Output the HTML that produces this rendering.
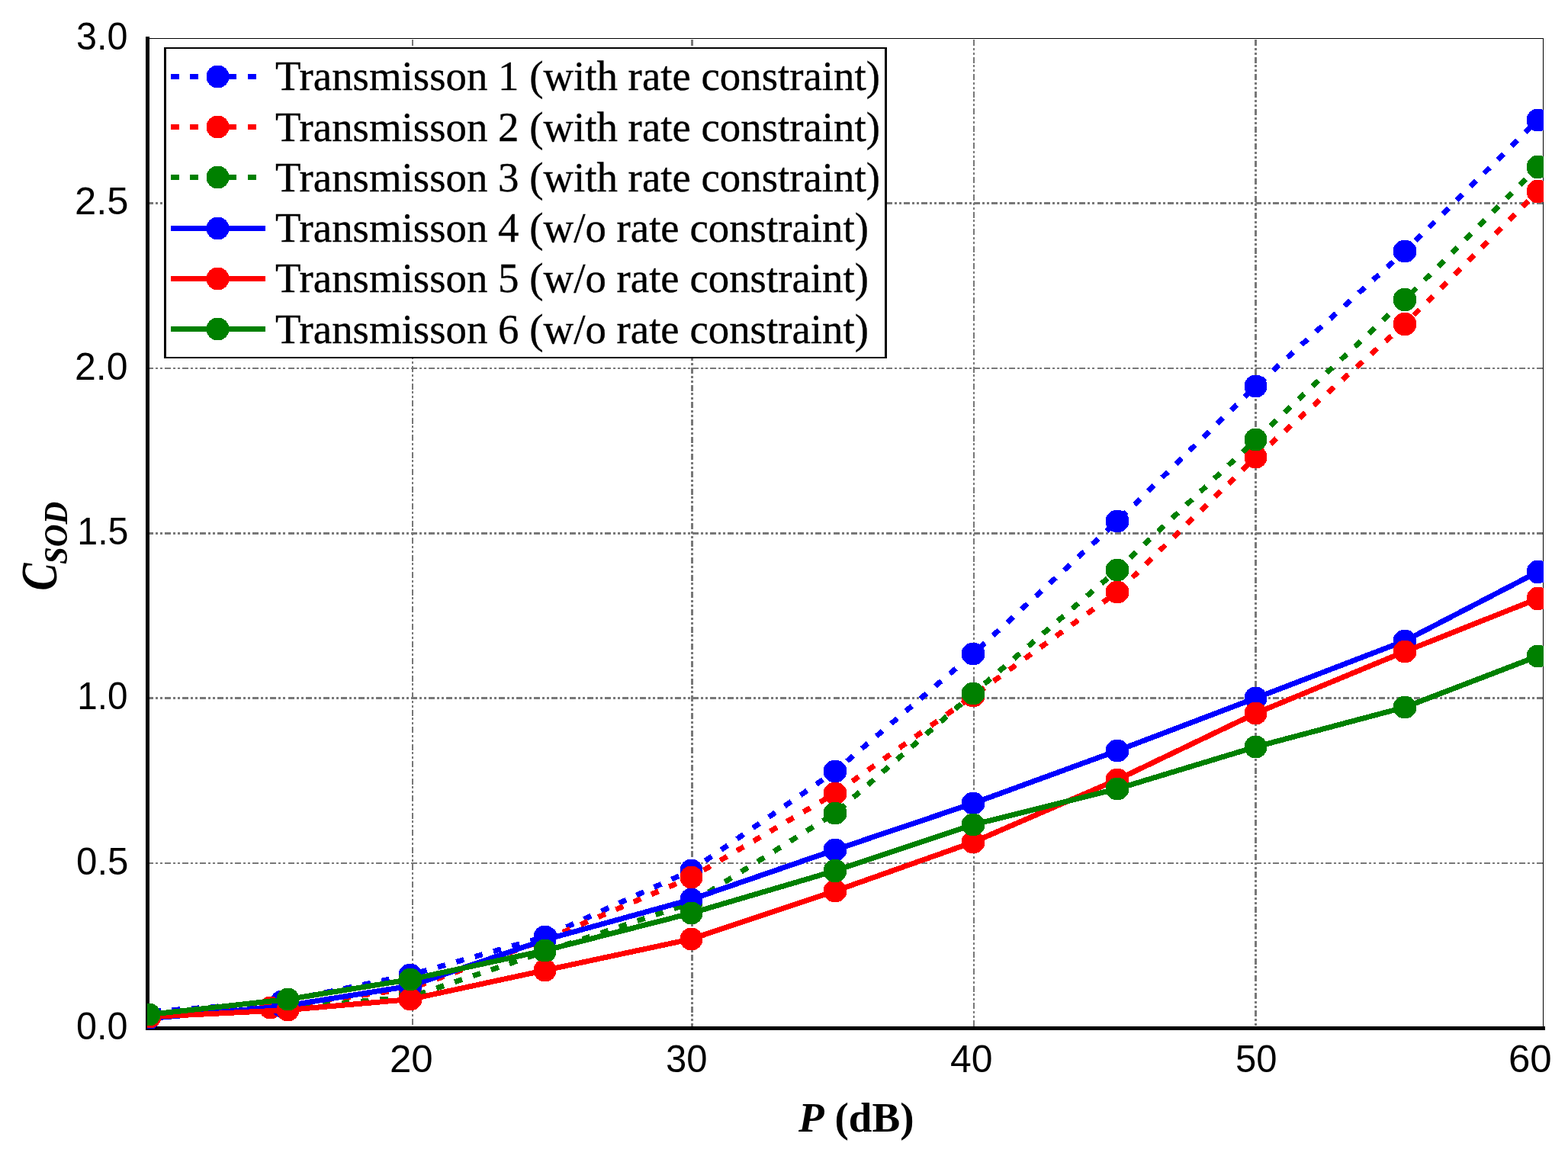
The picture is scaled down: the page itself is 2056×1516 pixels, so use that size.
<!DOCTYPE html>
<html lang="en"><head><meta charset="utf-8">
<title>C SOD versus P (dB)</title>
<style>
html,body{margin:0;padding:0;background:#fff;}
body{width:2056px;height:1516px;overflow:hidden;}
svg{display:block;}
.tk{font-family:"Liberation Sans",sans-serif;fill:#000;}.lg{font-family:"Liberation Serif",serif;fill:#000;stroke:#000;stroke-width:0.35px;}.tt{font-family:"Liberation Serif",serif;font-weight:bold;fill:#000;}
</style></head><body>
<svg width="2056" height="1516" viewBox="0 0 2056 1516" role="img" aria-label="Line chart of C SOD versus P in dB for six transmissions">
<rect x="0" y="0" width="2056" height="1516" fill="#fff"/>
<defs><clipPath id="ax"><rect x="193" y="50" width="1831" height="1299"/></clipPath></defs>
<g shape-rendering="crispEdges" fill="none" stroke="#787878">
<line x1="193" y1="266.5" x2="2023" y2="266.5" stroke-width="3" stroke-dasharray="8 3 3 3 3 3.065"/>
<line x1="193" y1="483" x2="2023" y2="483" stroke-width="2" stroke-dasharray="8 3 3 3 3 3.065"/>
<line x1="193" y1="699.5" x2="2023" y2="699.5" stroke-width="3" stroke-dasharray="8 3 3 3 3 3.065"/>
<line x1="193" y1="915.5" x2="2023" y2="915.5" stroke-width="3" stroke-dasharray="8 3 3 3 3 3.065"/>
<line x1="193" y1="1132" x2="2023" y2="1132" stroke-width="2" stroke-dasharray="8 3 3 3 3 3.065"/>
<line x1="541" y1="52" x2="541" y2="1346" stroke-width="2" stroke-dasharray="8 2.53 3 3 3 3"/>
<line x1="907.5" y1="52" x2="907.5" y2="1346" stroke-width="3" stroke-dasharray="8 2.64 3 3 3 3"/>
<line x1="1277" y1="52" x2="1277" y2="1346" stroke-width="2" stroke-dasharray="8 2.56 3 3 3 3"/>
<line x1="1646.5" y1="52" x2="1646.5" y2="1346" stroke-width="3" stroke-dasharray="8 2.73 3 3 3 3"/>
</g>
<g shape-rendering="crispEdges" fill="#000">
<rect x="191" y="48" width="5" height="1303"/>
<rect x="191" y="1346" width="1835" height="5"/>
<rect x="193" y="50" width="1831" height="1"/>
<rect x="2023" y="50" width="1" height="1299"/>
</g>
<g clip-path="url(#ax)" shape-rendering="crispEdges">
<path d="M172.2 1328.7 L369.5 1313.5 L538 1278.5 L714.5 1228.5 L906.5 1141.5 L1095 1011.5 L1276 857.5 L1465 683.5 L1646.5 506.5 L1842 329.5 L2016.5 157.5" fill="none" stroke="#0000ff" stroke-width="7" stroke-linejoin="round" stroke-dasharray="10.5 14.77" stroke-dashoffset="22.25"/>
<g fill="#0000ff"><ellipse cx="172.2" cy="1328.7" rx="14.95" ry="14.95"/><ellipse cx="369.5" cy="1313.5" rx="14.95" ry="14.95"/><ellipse cx="538" cy="1278.5" rx="15.45" ry="14.95"/><ellipse cx="714.5" cy="1228.5" rx="14.95" ry="14.95"/><ellipse cx="906.5" cy="1141.5" rx="14.95" ry="14.95"/><ellipse cx="1095" cy="1011.5" rx="15.45" ry="14.95"/><ellipse cx="1276" cy="857.5" rx="15.45" ry="14.95"/><ellipse cx="1465" cy="683.5" rx="15.45" ry="14.95"/><ellipse cx="1646.5" cy="506.5" rx="14.95" ry="14.95"/><ellipse cx="1842" cy="329.5" rx="15.45" ry="14.95"/><ellipse cx="2016.5" cy="157.5" rx="14.95" ry="14.95"/></g>
<path d="M195.5 1333 L354.5 1321.5 L538 1296.5 L714.5 1232.5 L906.5 1150.5 L1095 1040.5 L1276 912.5 L1465 776.5 L1646.5 599.5 L1842 425 L2016.5 251" fill="none" stroke="#ff0000" stroke-width="7" stroke-linejoin="round" stroke-dasharray="10.5 14.74" stroke-dashoffset="22.7"/>
<g fill="#ff0000"><ellipse cx="195.5" cy="1333" rx="14.95" ry="14.95"/><ellipse cx="354.5" cy="1321.5" rx="14.95" ry="14.95"/><ellipse cx="538" cy="1296.5" rx="15.45" ry="14.95"/><ellipse cx="714.5" cy="1232.5" rx="14.95" ry="14.95"/><ellipse cx="906.5" cy="1150.5" rx="14.95" ry="14.95"/><ellipse cx="1095" cy="1040.5" rx="15.45" ry="14.95"/><ellipse cx="1276" cy="912.5" rx="15.45" ry="14.95"/><ellipse cx="1465" cy="776.5" rx="15.45" ry="14.95"/><ellipse cx="1646.5" cy="599.5" rx="14.95" ry="14.95"/><ellipse cx="1842" cy="425" rx="15.45" ry="15.45"/><ellipse cx="2016.5" cy="251" rx="14.95" ry="15.45"/></g>
<path d="M195.5 1334 L377.5 1321.5 L538 1307.5 L714.5 1248 L906.5 1184 L1095 1066.5 L1276 909.5 L1465 747.5 L1646.5 576.5 L1842 393 L2016.5 219" fill="none" stroke="#008000" stroke-width="7" stroke-linejoin="round" stroke-dasharray="10.5 14.77" stroke-dashoffset="24.8"/>
<g fill="#008000"><ellipse cx="195.5" cy="1334" rx="14.95" ry="14.95"/><ellipse cx="377.5" cy="1321.5" rx="14.95" ry="14.95"/><ellipse cx="538" cy="1307.5" rx="15.45" ry="14.95"/><ellipse cx="714.5" cy="1248" rx="14.95" ry="14.95"/><ellipse cx="906.5" cy="1184" rx="14.95" ry="14.95"/><ellipse cx="1095" cy="1066.5" rx="15.45" ry="14.95"/><ellipse cx="1276" cy="909.5" rx="15.45" ry="14.95"/><ellipse cx="1465" cy="747.5" rx="15.45" ry="14.95"/><ellipse cx="1646.5" cy="576.5" rx="14.95" ry="14.95"/><ellipse cx="1842" cy="393" rx="15.45" ry="15.45"/><ellipse cx="2016.5" cy="219" rx="14.95" ry="15.45"/></g>
<path d="M195 1335.7 L370.5 1319.8 L538 1293 L714.5 1232.5 L906.5 1179.5 L1095 1114.5 L1276 1053.5 L1465 984.5 L1646.5 915.5 L1842 840.5 L2016.5 750" fill="none" stroke="#0000ff" stroke-width="7" stroke-linejoin="round"/>
<g fill="#0000ff"><ellipse cx="195" cy="1335.7" rx="14.95" ry="14.95"/><ellipse cx="370.5" cy="1319.8" rx="14.95" ry="14.95"/><ellipse cx="538" cy="1293" rx="15.45" ry="14.95"/><ellipse cx="714.5" cy="1232.5" rx="14.95" ry="14.95"/><ellipse cx="906.5" cy="1179.5" rx="14.95" ry="14.95"/><ellipse cx="1095" cy="1114.5" rx="15.45" ry="14.95"/><ellipse cx="1276" cy="1053.5" rx="15.45" ry="14.95"/><ellipse cx="1465" cy="984.5" rx="15.45" ry="14.95"/><ellipse cx="1646.5" cy="915.5" rx="14.95" ry="14.95"/><ellipse cx="1842" cy="840.5" rx="15.45" ry="14.95"/><ellipse cx="2016.5" cy="750" rx="14.95" ry="15.45"/></g>
<path d="M196.5 1333.5 L377.5 1324.5 L538 1310.5 L714.5 1272.5 L906.5 1231.5 L1095 1168.5 L1276 1104.5 L1465 1022.5 L1646.5 935.5 L1842 854.5 L2016.5 785" fill="none" stroke="#ff0000" stroke-width="7" stroke-linejoin="round"/>
<g fill="#ff0000"><ellipse cx="196.5" cy="1333.5" rx="14.95" ry="14.95"/><ellipse cx="377.5" cy="1324.5" rx="14.95" ry="14.95"/><ellipse cx="538" cy="1310.5" rx="15.45" ry="14.95"/><ellipse cx="714.5" cy="1272.5" rx="14.95" ry="14.95"/><ellipse cx="906.5" cy="1231.5" rx="14.95" ry="14.95"/><ellipse cx="1095" cy="1168.5" rx="15.45" ry="14.95"/><ellipse cx="1276" cy="1104.5" rx="15.45" ry="14.95"/><ellipse cx="1465" cy="1022.5" rx="15.45" ry="14.95"/><ellipse cx="1646.5" cy="935.5" rx="14.95" ry="14.95"/><ellipse cx="1842" cy="854.5" rx="15.45" ry="14.95"/><ellipse cx="2016.5" cy="785" rx="14.95" ry="15.45"/></g>
<path d="M195.5 1330.5 L377.5 1310.5 L538 1284.5 L714.5 1246.5 L906.5 1197.5 L1095 1142 L1276 1081.5 L1465 1034.5 L1646.5 979.5 L1842 927.5 L2016.5 860.5" fill="none" stroke="#008000" stroke-width="7" stroke-linejoin="round"/>
<g fill="#008000"><ellipse cx="195.5" cy="1330.5" rx="14.95" ry="14.95"/><ellipse cx="377.5" cy="1310.5" rx="14.95" ry="14.95"/><ellipse cx="538" cy="1284.5" rx="15.45" ry="14.95"/><ellipse cx="714.5" cy="1246.5" rx="14.95" ry="14.95"/><ellipse cx="906.5" cy="1197.5" rx="14.95" ry="14.95"/><ellipse cx="1095" cy="1142" rx="15.45" ry="15.45"/><ellipse cx="1276" cy="1081.5" rx="15.45" ry="14.95"/><ellipse cx="1465" cy="1034.5" rx="15.45" ry="14.95"/><ellipse cx="1646.5" cy="979.5" rx="14.95" ry="14.95"/><ellipse cx="1842" cy="927.5" rx="15.45" ry="14.95"/><ellipse cx="2016.5" cy="860.5" rx="14.95" ry="14.95"/></g>
</g>
<g shape-rendering="crispEdges">
<rect x="215" y="62" width="948" height="408" fill="#000"/>
<rect x="218" y="64" width="942" height="404" fill="#fff"/>
<line x1="224" y1="100.5" x2="336" y2="100.5" stroke="#0000ff" stroke-width="7" stroke-dasharray="10.5 14.77"/>
<circle cx="285.5" cy="100.5" r="14.95" fill="#0000ff"/>
<line x1="224" y1="166.5" x2="336" y2="166.5" stroke="#ff0000" stroke-width="7" stroke-dasharray="10.5 14.77"/>
<circle cx="285.5" cy="166.5" r="14.95" fill="#ff0000"/>
<line x1="224" y1="232.5" x2="336" y2="232.5" stroke="#008000" stroke-width="7" stroke-dasharray="10.5 14.77"/>
<circle cx="285.5" cy="232.5" r="14.95" fill="#008000"/>
<line x1="224" y1="299.5" x2="348" y2="299.5" stroke="#0000ff" stroke-width="7"/>
<circle cx="285.5" cy="299.5" r="14.95" fill="#0000ff"/>
<line x1="224" y1="365.5" x2="348" y2="365.5" stroke="#ff0000" stroke-width="7"/>
<circle cx="285.5" cy="365.5" r="14.95" fill="#ff0000"/>
<line x1="224" y1="431.5" x2="348" y2="431.5" stroke="#008000" stroke-width="7"/>
<circle cx="285.5" cy="431.5" r="14.95" fill="#008000"/>
</g>
<text class="lg" x="361" y="118" style="font-size:54px" textLength="793" lengthAdjust="spacingAndGlyphs">Transmisson 1 (with rate constraint)</text>
<text class="lg" x="361" y="185" style="font-size:54px" textLength="793" lengthAdjust="spacingAndGlyphs">Transmisson 2 (with rate constraint)</text>
<text class="lg" x="361" y="251" style="font-size:54px" textLength="793" lengthAdjust="spacingAndGlyphs">Transmisson 3 (with rate constraint)</text>
<text class="lg" x="361" y="317" style="font-size:54px" textLength="778" lengthAdjust="spacingAndGlyphs">Transmisson 4 (w/o rate constraint)</text>
<text class="lg" x="361" y="383" style="font-size:54px" textLength="778" lengthAdjust="spacingAndGlyphs">Transmisson 5 (w/o rate constraint)</text>
<text class="lg" x="361" y="450" style="font-size:54px" textLength="778" lengthAdjust="spacingAndGlyphs">Transmisson 6 (w/o rate constraint)</text>
<text class="tk" x="100" y="65" style="font-size:50px" textLength="67.5" lengthAdjust="spacingAndGlyphs">3.0</text>
<text class="tk" x="98" y="281" style="font-size:50px" textLength="70.5" lengthAdjust="spacingAndGlyphs">2.5</text>
<text class="tk" x="98" y="497.5" style="font-size:50px" textLength="69.5" lengthAdjust="spacingAndGlyphs">2.0</text>
<text class="tk" x="101.25" y="714" style="font-size:50px" textLength="67.25" lengthAdjust="spacingAndGlyphs">1.5</text>
<text class="tk" x="101.25" y="930" style="font-size:50px" textLength="66.25" lengthAdjust="spacingAndGlyphs">1.0</text>
<text class="tk" x="100" y="1146.5" style="font-size:50px" textLength="68.5" lengthAdjust="spacingAndGlyphs">0.5</text>
<text class="tk" x="100" y="1363" style="font-size:50px" textLength="67.5" lengthAdjust="spacingAndGlyphs">0.0</text>
<text class="tk" x="511" y="1406" style="font-size:50px" textLength="56.75" lengthAdjust="spacingAndGlyphs">20</text>
<text class="tk" x="873" y="1406" style="font-size:50px" textLength="54.5" lengthAdjust="spacingAndGlyphs">30</text>
<text class="tk" x="1246" y="1406" style="font-size:50px" textLength="55.5" lengthAdjust="spacingAndGlyphs">40</text>
<text class="tk" x="1620" y="1406" style="font-size:50px" textLength="54.5" lengthAdjust="spacingAndGlyphs">50</text>
<text class="tk" x="1978" y="1406" style="font-size:50px" textLength="56.75" lengthAdjust="spacingAndGlyphs">60</text>
<text class="tt" x="1047" y="1483.6" style="font-size:54px" textLength="151.5" lengthAdjust="spacingAndGlyphs"><tspan font-style="italic">P</tspan> (dB)</text>
<text class="tt" transform="translate(73.5 774.5) rotate(-90)" style="font-size:68px;font-style:italic" textLength="36" lengthAdjust="spacingAndGlyphs">C</text>
<text class="tt" transform="translate(87.6 740) rotate(-90)" style="font-size:44px;font-style:italic" textLength="82" lengthAdjust="spacingAndGlyphs">SOD</text>
</svg>
</body></html>
